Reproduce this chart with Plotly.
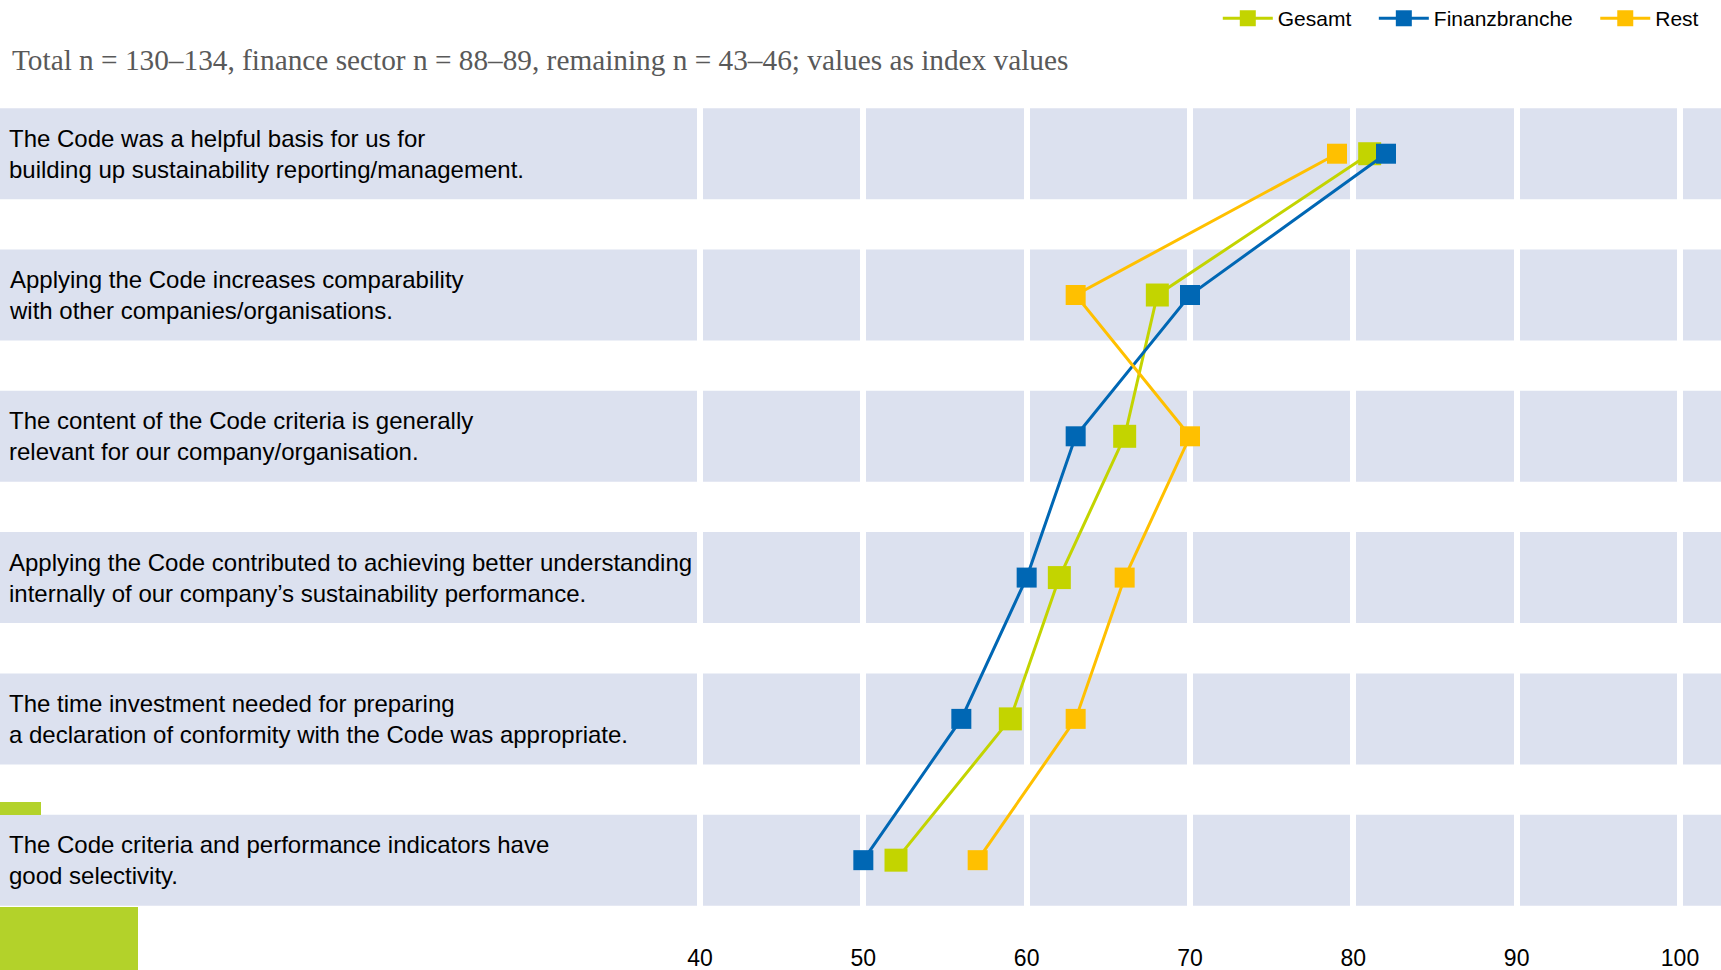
import plotly.graph_objects as go

statements = [
    "The Code was a helpful basis for us for<br>building up sustainability reporting/management.",
    "Applying the Code increases comparability<br>with other companies/organisations.",
    "The content of the Code criteria is generally<br>relevant for our company/organisation.",
    "Applying the Code contributed to achieving better understanding<br>internally of our company’s sustainability performance.",
    "The time investment needed for preparing<br>a declaration of conformity with the Code was appropriate.",
    "The Code criteria and performance indicators have<br>good selectivity.",
]
gesamt = [81, 68, 66, 62, 59, 52]
finanzbranche = [82, 70, 63, 60, 56, 50]
rest = [79, 63, 70, 66, 63, 57]
x_ticks = [40, 50, 60, 70, 80, 90, 100]
subtitle = "Total n = 130–134, finance sector n = 88–89, remaining n = 43–46; values as index values"

W, H = 1721, 970
PLOT_H = 940
ypos = list(range(len(statements)))
PAD = "\u00a0\u00a0\u00a0"

fig = go.Figure()

series = [
    ("Gesamt", gesamt, "#C3D400", 23, PAD),
    ("Finanzbranche", finanzbranche, "#0067B4", 20, PAD),
    ("Rest", rest, "#FFC000", 20, ""),
]
for name, vals, col, ms, pad in series:
    fig.add_trace(go.Scatter(
        x=vals, y=ypos, name=name + pad, mode="lines+markers",
        line=dict(color=col, width=3),
        marker=dict(symbol="square", size=ms, color=col),
        cliponaxis=False,
    ))

shapes = []
for i in ypos:
    shapes.append(dict(type="rect", xref="paper", yref="y", x0=0, x1=1,
                       y0=i - 0.322, y1=i + 0.322, fillcolor="#DCE1EF",
                       line=dict(width=0), layer="below"))
# decorative green blocks
shapes.append(dict(type="rect", xref="paper", yref="paper", x0=0, x1=41 / W,
                   y0=1 - 815 / PLOT_H, y1=1 - 802 / PLOT_H, fillcolor="#B3D22A",
                   line=dict(width=0), layer="below"))
shapes.append(dict(type="rect", xref="paper", yref="paper", x0=0, x1=138 / W,
                   y0=1 - 975 / PLOT_H, y1=1 - 907 / PLOT_H, fillcolor="#B3D22A",
                   line=dict(width=0), layer="below"))

annotations = []
for i, s in enumerate(statements):
    annotations.append(dict(xref="paper", yref="y", x=7 / W, y=i, text=s,
                            showarrow=False, xanchor="left", yanchor="middle",
                            align="left",
                            font=dict(family="Liberation Sans, Arial", size=24, color="#000000")))
annotations.append(dict(xref="paper", yref="paper", x=10 / W, y=1 - 60 / PLOT_H,
                        text=subtitle, showarrow=False, xanchor="left",
                        yanchor="middle",
                        font=dict(family="Liberation Serif, Times New Roman", size=29.3,
                                  color="#595959")))

fig.update_layout(
    width=W, height=H,
    margin=dict(l=0, r=0, t=0, b=H - PLOT_H, autoexpand=False),
    paper_bgcolor="white", plot_bgcolor="white",
    shapes=shapes, annotations=annotations,
    showlegend=True,
    legend=dict(orientation="h", x=0.99, xanchor="right", y=1.002, yanchor="top",
                font=dict(family="Liberation Sans, Arial", size=21, color="#000000"),
                bgcolor="rgba(0,0,0,0)", itemwidth=50, traceorder="normal"),
    xaxis=dict(range=[-2.857, 102.51], tickvals=x_ticks,
               ticktext=[str(v) for v in x_ticks],
               showgrid=True, gridcolor="white", gridwidth=6, zeroline=False,
               showline=False, ticks="", ticklabelstandoff=2, automargin=False,
               tickfont=dict(family="Liberation Sans, Arial", size=23, color="#000000"),
               fixedrange=True),
    yaxis=dict(range=[5.565, -1.088], showgrid=False, zeroline=False,
               showticklabels=False, showline=False, fixedrange=True,
               automargin=False),
)

fig.write_html("out.html",
               config={"displayModeBar": False},
               post_script="document.body.style.margin='0';document.body.style.overflow='hidden';")
